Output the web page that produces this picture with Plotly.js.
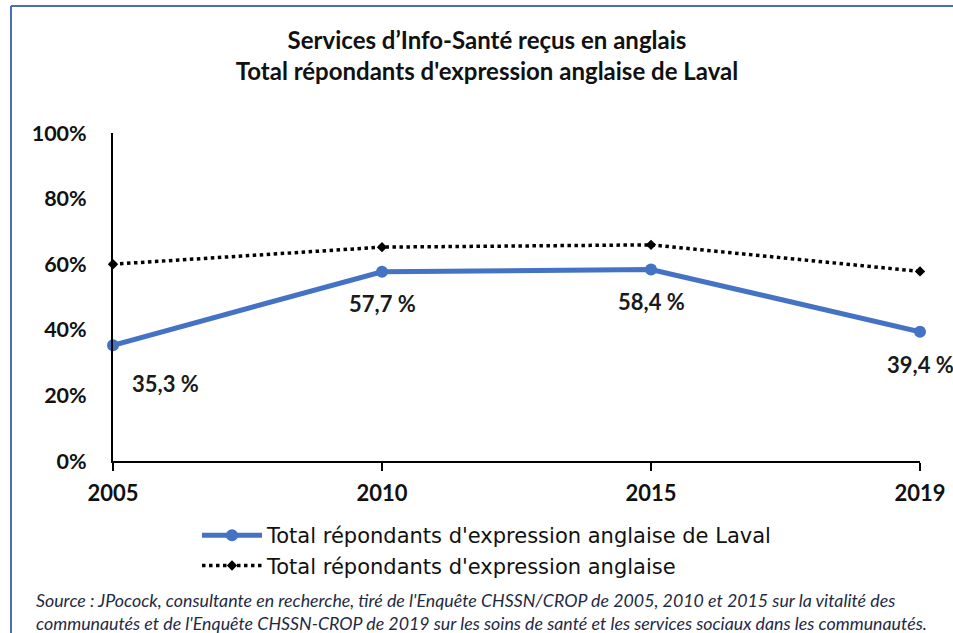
<!DOCTYPE html>
<html>
<head>
<meta charset="utf-8">
<script src="https://cdn.plot.ly/plotly-3.0.1.min.js"></script>
<style>
html,body{margin:0;padding:0;background:#fff;}
#chart{width:953px;height:633px;}
</style>
</head>
<body>
<div id="chart"></div>
<script>
const years = ["2005", "2010", "2015", "2019"];
const laval = [35.3, 57.7, 58.4, 39.4];
const total = [60.0, 65.2, 65.9, 57.8];
const labelShiftX = [52, 0, 0, 0];
const labelShiftY = [-38, -32, -32, -33];
const yTicks = [0, 20, 40, 60, 80, 100];
const seriesNames = ["Total répondants d'expression anglaise de Laval", "Total répondants d'expression anglaise"];

const FONT = "Lato, 'Open Sans', sans-serif";

const traces = [
  {
    x: years, y: laval, name: seriesNames[0], type: 'scatter', mode: 'lines+markers',
    line: {color: '#4472C4', width: 5},
    marker: {color: '#4472C4', size: 12, symbol: 'circle'},
    cliponaxis: false
  },
  {
    x: years, y: total, name: seriesNames[1], type: 'scatter', mode: 'lines+markers',
    line: {color: '#000000', width: 3.5, dash: 'dot'},
    marker: {color: '#000000', size: 8, symbol: 'diamond'},
    cliponaxis: false
  }
];

const annotations = laval.map((v, i) => ({
  x: i, y: v, xref: 'x', yref: 'y',
  text: v.toFixed(1).replace('.', ',') + ' %',
  showarrow: false, xshift: labelShiftX[i], yshift: labelShiftY[i],
  font: {family: FONT, size: 22, color: '#1a1a1a', weight: 'bold'}
}));

annotations.push({
  xref: 'paper', yref: 'paper', x: (34 - 113) / 807, y: (461 - 587) / 328,
  xanchor: 'left', yanchor: 'top', align: 'left', showarrow: false,
  text: "Source : JPocock, consultante en recherche, tiré de l'Enquête CHSSN/CROP de 2005, 2010 et 2015 sur la vitalité des<br>communautés et de l'Enquête CHSSN-CROP de 2019 sur les soins de santé et les services sociaux dans les communautés.",
  font: {family: FONT, size: 17.8, color: '#1f2a44', style: 'italic'}
});

const layout = {
  width: 953, height: 633,
  margin: {l: 113, r: 33, t: 133, b: 172},
  paper_bgcolor: '#ffffff', plot_bgcolor: '#ffffff',
  font: {family: FONT, color: '#000'},
  title: {
    text: "Services d’Info-Santé reçus en anglais<br>Total répondants d'expression anglaise de Laval",
    x: 0.511, xanchor: 'center', yref: 'container', y: 1 - 49 / 633, yanchor: 'middle',
    font: {family: FONT, size: 24, color: '#111', weight: 'bold'}
  },
  xaxis: {
    type: 'category', range: [0, 3],
    showgrid: false, zeroline: false,
    showline: true, linecolor: '#000', linewidth: 2,
    ticks: 'outside', ticklen: 8, tickwidth: 2, tickcolor: '#000',
    ticklabelstandoff: 4,
    tickfont: {family: FONT, size: 22, color: '#111', weight: 'bold'},
    fixedrange: true
  },
  yaxis: {
    range: [0, 100], tickvals: yTicks, ticktext: yTicks.map(v => v + '%'),
    showgrid: false, zeroline: false,
    showline: true, linecolor: '#000', linewidth: 2,
    ticks: '', ticklabelstandoff: 20,
    tickfont: {family: FONT, size: 21.5, color: '#111', weight: 'bold'},
    fixedrange: true
  },
  legend: {
    orientation: 'v', x: (197 - 113) / 807, xanchor: 'left', y: (461 - 515) / 328, yanchor: 'top',
    font: {family: "'DejaVu Sans', sans-serif", size: 21, color: '#111'},
    bgcolor: 'rgba(0,0,0,0)', tracegroupgap: 0, itemwidth: 60
  },
  annotations: annotations,
  shapes: [
    {type: 'line', xref: 'paper', yref: 'paper', x0: (11 - 113) / 807, x1: (11 - 113) / 807,
     y0: (461 - 6) / 328, y1: (461 - 660) / 328, line: {color: '#4a6fb0', width: 2}},
    {type: 'line', xref: 'paper', yref: 'paper', x0: (11 - 113) / 807, x1: (960 - 113) / 807,
     y0: (461 - 6) / 328, y1: (461 - 6) / 328, line: {color: '#4a6fb0', width: 2}}
  ]
};

Plotly.newPlot('chart', traces, layout, {displayModeBar: false, staticPlot: true});
</script>
</body>
</html>
